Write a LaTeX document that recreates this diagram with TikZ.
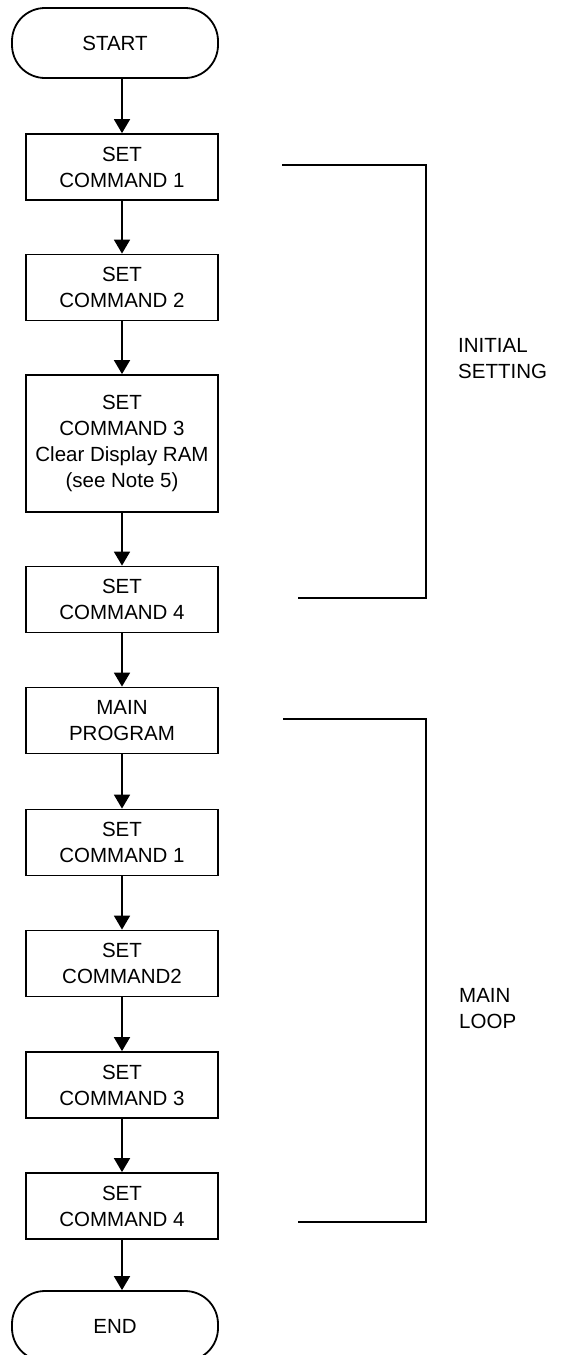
\documentclass[tikz,border=0pt]{standalone}
\usepackage{fontspec}
\setmainfont{Liberation Sans}
\usetikzlibrary{arrows.meta}
\begin{document}
\begin{tikzpicture}[x=1pt,y=-1pt,
  lw/.style={line width=1.8pt},
  stepbox/.style={draw,lw,rectangle,minimum width=192pt,minimum height=66pt,inner sep=0pt,align=center,font=\fontsize{20.5}{26}\selectfont},
  tallbox/.style={stepbox,minimum height=137pt},
  term/.style={draw,lw,rectangle,rounded corners=33pt,minimum width=206pt,minimum height=70pt,inner sep=0pt,font=\fontsize{20.5}{26}\selectfont},
  arr/.style={lw,-{Triangle[width=16pt,length=14pt]}},
  brk/.style={lw},
  lbl/.style={anchor=west,align=left,inner sep=0pt,font=\fontsize{20.5}{26}\selectfont}]
\useasboundingbox (0,0) rectangle (563,1355);
\node[term] (start) at (115,43) {START};
\node[stepbox] (b1) at (122,167) {SET\\COMMAND 1};
\node[stepbox] (b2) at (122,287.5) {SET\\COMMAND 2};
\node[tallbox] (b3) at (122,443.5) {SET\\COMMAND 3\\Clear Display RAM\\(see Note 5)};
\node[stepbox] (b4) at (122,599.5) {SET\\COMMAND 4};
\node[stepbox] (b5) at (122,720.5) {MAIN\\PROGRAM};
\node[stepbox] (b6) at (122,842.5) {SET\\COMMAND 1};
\node[stepbox] (b7) at (122,963.5) {SET\\COMMAND2};
\node[stepbox] (b8) at (122,1085) {SET\\COMMAND 3};
\node[stepbox] (b9) at (122,1206) {SET\\COMMAND 4};
\node[term] (endt) at (115,1326) {END};
\draw[arr] (b1.north |- start.south) -- (b1.north);
\draw[arr] (b1) -- (b2);
\draw[arr] (b2) -- (b3);
\draw[arr] (b3) -- (b4);
\draw[arr] (b4) -- (b5);
\draw[arr] (b5) -- (b6);
\draw[arr] (b6) -- (b7);
\draw[arr] (b7) -- (b8);
\draw[arr] (b8) -- (b9);
\draw[arr] (b9.south) -- (b9.south |- endt.north);
\coordinate (i1) at (282,165);
\coordinate (i2) at (426,165);
\coordinate (i3) at (426,598);
\coordinate (i4) at (298,598);
\draw[brk] (i1) -- (i2) -- (i3) -- (i4);
\node[lbl] (init) at (458,358.5) {INITIAL\\SETTING};
\coordinate (m1) at (283,719);
\coordinate (m2) at (426,719);
\coordinate (m3) at (426,1222);
\coordinate (m4) at (298,1222);
\draw[brk] (m1) -- (m2) -- (m3) -- (m4);
\node[lbl] (loop) at (459,1009) {MAIN\\LOOP};
\end{tikzpicture}
\end{document}
